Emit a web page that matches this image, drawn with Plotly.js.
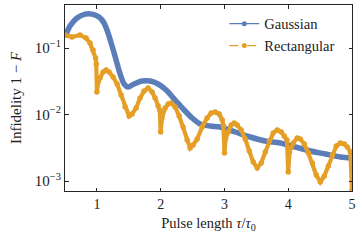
<!DOCTYPE html>
<html>
<head>
<meta charset="utf-8">
<script src="https://cdn.plot.ly/plotly-3.0.1.min.js"></script>
<style>html,body{margin:0;padding:0;background:#fff;}#chart{width:362px;height:241px;}</style>
</head>
<body>
<div id="chart"></div>
<script>
// Gaussian pulse infidelity
const gaussX = [0.5,0.578,0.688,0.814,0.924,1.034,1.112,1.175,1.238,1.301,1.364,1.427,1.489,1.583,1.709,1.834,1.96,2.086,2.227,2.368,2.494,2.62,2.776,2.933,3.169,3.404,3.64,3.875,4.111,4.346,4.582,4.817,5.0];
const gaussY = [0.146,0.214,0.283,0.324,0.324,0.292,0.238,0.168,0.107,0.066,0.0407,0.0288,0.0259,0.0288,0.0319,0.0319,0.0288,0.0233,0.0165,0.0117,0.00886,0.00719,0.00671,0.00649,0.00546,0.00459,0.0040,0.00373,0.00325,0.00283,0.00255,0.0023,0.00222];
// Rectangular pulse infidelity
const rectX = [0.5,0.61,0.735,0.83,0.892,0.94,0.979,0.99,1.0,1.02,1.049,1.097,1.144,1.191,1.254,1.317,1.38,1.442,1.505,1.552,1.615,1.677,1.74,1.803,1.866,1.913,1.96,1.985,2.0,2.02,2.07,2.117,2.164,2.227,2.29,2.352,2.415,2.462,2.509,2.572,2.651,2.729,2.792,2.855,2.918,2.965,2.985,3.0,3.02,3.059,3.106,3.153,3.2,3.263,3.326,3.389,3.451,3.514,3.577,3.64,3.703,3.765,3.828,3.891,3.938,3.98,4.0,4.02,4.079,4.142,4.189,4.252,4.315,4.378,4.44,4.503,4.566,4.629,4.692,4.754,4.817,4.88,4.927,4.975,5.0];
const rectY = [0.157,0.146,0.157,0.141,0.119,0.0933,0.0707,0.0575,0.0218,0.0308,0.0354,0.0436,0.0467,0.0436,0.0366,0.0287,0.0196,0.013,0.0095,0.0102,0.0125,0.0177,0.0226,0.025,0.0218,0.0177,0.0134,0.0117,0.00546,0.00886,0.0125,0.0144,0.0149,0.013,0.0095,0.00649,0.00413,0.00313,0.00348,0.00428,0.00649,0.00886,0.0105,0.0109,0.0102,0.00827,0.00672,0.00264,0.00443,0.00546,0.00695,0.00745,0.00695,0.00585,0.00428,0.00283,0.00193,0.00157,0.00187,0.00273,0.0040,0.00527,0.00585,0.00546,0.00475,0.00413,0.00137,0.00273,0.00373,0.00443,0.00428,0.0036,0.00264,0.00187,0.00123,0.000966,0.00119,0.00168,0.00246,0.00336,0.00373,0.0036,0.00325,0.00273,0.000732];
const seriesNames = ["Gaussian","Rectangular"];
const yTickVals = [0.001,0.01,0.1];
const yTickText = ["10<sup>−3</sup>","10<sup>−2</sup>","10<sup>−1</sup>"];
const xTickVals = [1,2,3,4,5];

const blue = "#5b7eb9";
const orange = "#e59f26";
const font = "Liberation Serif, Times New Roman, serif";

const traces = [
  {x: gaussX, y: gaussY, mode: "lines", line: {color: blue, width: 5.5, shape: "spline", smoothing: 0.8}, showlegend: false, hoverinfo: "skip"},
  {x: rectX, y: rectY, mode: "lines+markers", line: {color: orange, width: 4.2}, marker: {color: orange, size: 5.5}, cliponaxis: true, showlegend: false, hoverinfo: "skip"},
  {x: [null], y: [null], name: seriesNames[0], mode: "lines+markers", line: {color: blue, width: 1.3}, marker: {color: blue, size: 5}},
  {x: [null], y: [null], name: seriesNames[1], mode: "lines+markers", line: {color: orange, width: 1.3, dash: "dash"}, marker: {color: orange, size: 5}}
];

const axisCommon = {showline: true, mirror: "allticks", linecolor: "#262626", linewidth: 1, ticks: "inside", ticklen: 3.5, tickwidth: 1, tickcolor: "#262626", showgrid: false, zeroline: false, tickfont: {family: font, size: 14, color: "#222"}};

const layout = {
  width: 362, height: 241,
  margin: {l: 65, r: 10, t: 5, b: 50},
  paper_bgcolor: "#fff", plot_bgcolor: "#fff",
  font: {family: font, color: "#222"},
  xaxis: Object.assign({}, axisCommon, {range: [0.5, 5], tickvals: xTickVals, ticktext: xTickVals.map(String),
    title: {text: "Pulse length <i>τ</i>/<i>τ</i><sub>0</sub>", font: {family: font, size: 14.5, color: "#222"}, standoff: 7}}),
  yaxis: Object.assign({}, axisCommon, {type: "log", range: [-3.15, -0.353], tickvals: yTickVals, ticktext: yTickText,
    tickfont: {family: font, size: 15, color: "#222"},
    title: {text: "Infidelity 1 − <i>F</i>", font: {family: font, size: 15, color: "#222"}, standoff: 9}}),
  legend: {x: 0.555, y: 0.985, xanchor: "left", yanchor: "top", bgcolor: "rgba(255,255,255,0)", font: {family: font, size: 14.5, color: "#222"}, tracegroupgap: 0, itemwidth: 30},
  showlegend: true
};

Plotly.newPlot("chart", traces, layout, {displayModeBar: false, staticPlot: true});
</script>
</body>
</html>
